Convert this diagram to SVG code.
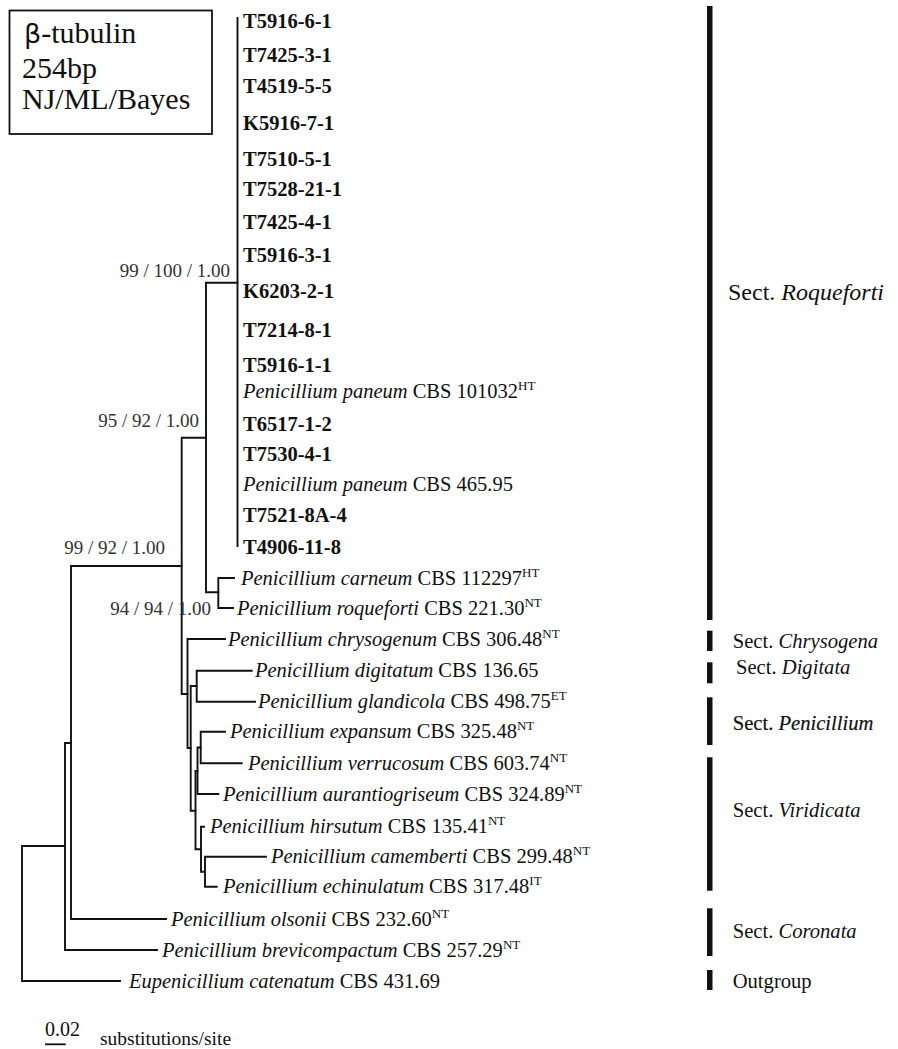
<svg xmlns="http://www.w3.org/2000/svg" width="898" height="1049" viewBox="0 0 898 1049">
<style>
text{font-family:"Liberation Serif","Times New Roman",serif;fill:#111}
.lb{font-size:20.5px}
.b{font-weight:bold}
.i{font-style:italic}
.sup{font-size:13px}
.sv{font-size:19px;fill:#333;text-anchor:end}
.sec{font-size:20.6px}
.br{fill:none;stroke:#111;stroke-width:1.9;stroke-linecap:square}
.bar{fill:#111}
</style>
<rect width="898" height="1049" fill="#fff"/>
<g id="legend">
<rect x="9.5" y="10.5" width="202.5" height="123.5" fill="none" stroke="#111" stroke-width="1.8"/>
<text x="24" y="43" style="font-size:30px"><tspan style="font-family:'DejaVu Sans',sans-serif;font-size:27px">β</tspan>-tubulin</text>
<text x="22" y="78" style="font-size:30px">254bp</text>
<text x="22" y="109" style="font-size:30px">NJ/ML/Bayes</text>
</g>
<g id="connectors">
<path class="br" d="M22,846V981M22,846H65M22,981H120"/>
<path class="br" d="M65,743V950M65,743H71M65,950H157"/>
<path class="br" d="M71,566V919M71,566H181.7M71,919H166"/>
<path class="br" d="M181.7,437.7V694M181.7,437.7H206M181.7,694H187.5"/>
<path class="br" d="M206,282.7V592.3M206,282.7H237.5M206,592.3H218.3"/>
<path class="br" d="M237.5,18V546"/>
<path class="br" d="M218.3,578V608M218.3,578H234M218.3,608H233"/>
<path class="br" d="M187.5,639V748M187.5,639H225M187.5,748H190.7"/>
<path class="br" d="M190.7,686V810.7M190.7,686H196.7M190.7,810.7H195.5"/>
<path class="br" d="M196.7,670.7V701.7M196.7,670.7H251.7M196.7,701.7H255"/>
<path class="br" d="M195.5,771V849.3M195.5,771H197.5M195.5,849.3H201"/>
<path class="br" d="M197.5,747.5V794M197.5,747.5H200.7M197.5,794H218.3"/>
<path class="br" d="M200.7,731.7V763.3M200.7,731.7H225M200.7,763.3H241.7"/>
<path class="br" d="M201,826.7V871.7M201,826.7H204M201,871.7H205"/>
<path class="br" d="M205,856.7V886.7M205,856.7H266M205,886.7H216.7"/>
</g>
<g id="support">
<text class="sv" x="230" y="277">99 / 100 / 1.00</text>
<text class="sv" x="199" y="427">95 / 92 / 1.00</text>
<text class="sv" x="165" y="554">99 / 92 / 1.00</text>
<text class="sv" x="211" y="615">94 / 94 / 1.00</text>
</g>
<g id="leaf-T5916-6-1"><text class="lb b" x="243" y="28">T5916-6-1</text></g>
<g id="leaf-T7425-3-1"><text class="lb b" x="243" y="62">T7425-3-1</text></g>
<g id="leaf-T4519-5-5"><text class="lb b" x="243" y="93">T4519-5-5</text></g>
<g id="leaf-K5916-7-1"><text class="lb b" x="243" y="130">K5916-7-1</text></g>
<g id="leaf-T7510-5-1"><text class="lb b" x="243" y="166">T7510-5-1</text></g>
<g id="leaf-T7528-21-1"><text class="lb b" x="243" y="196">T7528-21-1</text></g>
<g id="leaf-T7425-4-1"><text class="lb b" x="243" y="229">T7425-4-1</text></g>
<g id="leaf-T5916-3-1"><text class="lb b" x="243" y="262">T5916-3-1</text></g>
<g id="leaf-K6203-2-1"><text class="lb b" x="243" y="298">K6203-2-1</text></g>
<g id="leaf-T7214-8-1"><text class="lb b" x="243" y="337">T7214-8-1</text></g>
<g id="leaf-T5916-1-1"><text class="lb b" x="243" y="372">T5916-1-1</text></g>
<g id="leaf-paneum-101032"><text class="lb" x="243" y="398"><tspan class="i">Penicillium paneum</tspan> CBS 101032<tspan class="sup" dy="-8">HT</tspan></text></g>
<g id="leaf-T6517-1-2"><text class="lb b" x="243" y="431">T6517-1-2</text></g>
<g id="leaf-T7530-4-1"><text class="lb b" x="243" y="461">T7530-4-1</text></g>
<g id="leaf-paneum-465"><text class="lb" x="243" y="491"><tspan class="i">Penicillium paneum</tspan> CBS 465.95</text></g>
<g id="leaf-T7521-8A-4"><text class="lb b" x="243" y="522">T7521-8A-4</text></g>
<g id="leaf-T4906-11-8"><text class="lb b" x="243" y="554">T4906-11-8</text></g>
<g id="leaf-carneum"><text class="lb" x="241" y="585"><tspan class="i">Penicillium carneum</tspan> CBS 112297<tspan class="sup" dy="-8">HT</tspan></text></g>
<g id="leaf-roqueforti"><text class="lb" x="237" y="615"><tspan class="i">Penicillium roqueforti</tspan> CBS 221.30<tspan class="sup" dy="-8">NT</tspan></text></g>
<g id="leaf-chrysogenum"><text class="lb" x="228" y="646"><tspan class="i">Penicillium chrysogenum</tspan> CBS 306.48<tspan class="sup" dy="-8">NT</tspan></text></g>
<g id="leaf-digitatum"><text class="lb" x="255" y="677"><tspan class="i">Penicillium digitatum</tspan> CBS 136.65</text></g>
<g id="leaf-glandicola"><text class="lb" x="258" y="708"><tspan class="i">Penicillium glandicola</tspan> CBS 498.75<tspan class="sup" dy="-8">ET</tspan></text></g>
<g id="leaf-expansum"><text class="lb" x="230" y="738"><tspan class="i">Penicillium expansum</tspan> CBS 325.48<tspan class="sup" dy="-8">NT</tspan></text></g>
<g id="leaf-verrucosum"><text class="lb" x="248" y="770"><tspan class="i">Penicillium verrucosum</tspan> CBS 603.74<tspan class="sup" dy="-8">NT</tspan></text></g>
<g id="leaf-aurantiogriseum"><text class="lb" x="223" y="801"><tspan class="i">Penicillium aurantiogriseum</tspan> CBS 324.89<tspan class="sup" dy="-8">NT</tspan></text></g>
<g id="leaf-hirsutum"><text class="lb" x="210" y="833"><tspan class="i">Penicillium hirsutum</tspan> CBS 135.41<tspan class="sup" dy="-8">NT</tspan></text></g>
<g id="leaf-camemberti"><text class="lb" x="271" y="863"><tspan class="i">Penicillium camemberti</tspan> CBS 299.48<tspan class="sup" dy="-8">NT</tspan></text></g>
<g id="leaf-echinulatum"><text class="lb" x="223" y="893"><tspan class="i">Penicillium echinulatum</tspan> CBS 317.48<tspan class="sup" dy="-8">IT</tspan></text></g>
<g id="leaf-olsonii"><text class="lb" x="171" y="926"><tspan class="i">Penicillium olsonii</tspan> CBS 232.60<tspan class="sup" dy="-8">NT</tspan></text></g>
<g id="leaf-brevicompactum"><text class="lb" x="162" y="957"><tspan class="i">Penicillium brevicompactum</tspan> CBS 257.29<tspan class="sup" dy="-8">NT</tspan></text></g>
<g id="leaf-catenatum"><text class="lb" x="129" y="988"><tspan class="i">Eupenicillium catenatum</tspan> CBS 431.69</text></g>
<g id="sect-roqueforti"><rect class="bar" x="707" y="6" width="5.5" height="614"/><text class="sec" x="728" y="300" style="font-size:24px">Sect. <tspan class="i">Roqueforti</tspan></text></g>
<g id="sect-chrysogena"><rect class="bar" x="707" y="630.7" width="5.5" height="20.3"/><text class="sec" x="732.7" y="648">Sect. <tspan class="i">Chrysogena</tspan></text></g>
<g id="sect-digitata"><rect class="bar" x="707" y="662.3" width="5.5" height="21"/><text class="sec" x="736" y="674">Sect. <tspan class="i">Digitata</tspan></text></g>
<g id="sect-penicillium"><rect class="bar" x="707" y="697.3" width="5.5" height="47.7"/><text class="sec" x="732.7" y="730" style="stroke:#111;stroke-width:0.2">Sect. <tspan class="i">Penicillium</tspan></text></g>
<g id="sect-viridicata"><rect class="bar" x="707" y="757.3" width="5.5" height="133.4"/><text class="sec" x="732.7" y="817">Sect. <tspan class="i">Viridicata</tspan></text></g>
<g id="sect-coronata"><rect class="bar" x="707" y="908.3" width="5.5" height="47.7"/><text class="sec" x="732.7" y="938">Sect. <tspan class="i">Coronata</tspan></text></g>
<g id="sect-outgroup"><rect class="bar" x="707" y="970" width="5.5" height="20"/><text class="sec" x="732.7" y="988">Outgroup</text></g>
<g id="scale">
<text x="45" y="1036" style="font-size:20px">0.02</text>
<path d="M45,1044.3H65.7" stroke="#111" stroke-width="1.8"/>
<text x="100" y="1045" style="font-size:19.5px">substitutions/site</text>
</g>
</svg>
